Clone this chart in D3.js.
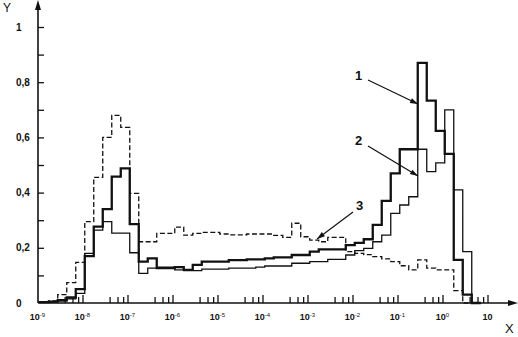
<!DOCTYPE html>
<html>
<head>
<meta charset="utf-8">
<script src="https://cdn.jsdelivr.net/npm/d3@7"></script>
<style>
  body { margin: 0; background: #fff; }
  svg { display: block; }
  text { font-family: Arial, "Liberation Sans", sans-serif; fill: #111; }
</style>
</head>
<body>
<svg id="chart" width="518" height="337"></svg>
<script>
// bin edges, as log10(X); 1/5 decade bins
const binEdges = [-8.95, -8.75, -8.55, -8.35, -8.15, -7.95, -7.75, -7.55, -7.35, -7.15,
  -6.95, -6.75, -6.55, -6.35, -6.15, -5.95, -5.75, -5.55, -5.35, -5.15,
  -4.95, -4.75, -4.55, -4.35, -4.15, -3.95, -3.75, -3.55, -3.35, -3.15,
  -2.95, -2.75, -2.55, -2.35, -2.15, -1.95, -1.75, -1.55, -1.35, -1.15,
  -0.95, -0.75, -0.55, -0.35, -0.15, 0.05, 0.25, 0.45, 0.65, 0.85]

// curve 1 (thick)
const series1 = [0.003, 0.005, 0.01, 0.02, 0.05, 0.17, 0.277, 0.34, 0.458, 0.488,
  0.286, 0.15, 0.162, 0.126, 0.126, 0.13, 0.12, 0.138, 0.15, 0.15,
  0.15, 0.155, 0.155, 0.158, 0.158, 0.162, 0.165, 0.165, 0.174, 0.174,
  0.186, 0.194, 0.194, 0.194, 0.21, 0.218, 0.231, 0.283, 0.37, 0.47,
  0.557, 0.557, 0.87, 0.733, 0.624, 0.54, 0.156, 0.03, 0]

// curve 2 (thin)
const series2 = [0.002, 0.004, 0.008, 0.015, 0.035, 0.18, 0.264, 0.295, 0.253, 0.253,
  0.182, 0.107, 0.126, 0.13, 0.13, 0.12, 0.117, 0.117, 0.123, 0.123,
  0.123, 0.126, 0.126, 0.126, 0.13, 0.134, 0.134, 0.134, 0.144, 0.144,
  0.15, 0.15, 0.158, 0.158, 0.174, 0.19, 0.198, 0.222, 0.246, 0.325,
  0.355, 0.385, 0.557, 0.476, 0.508, 0.70, 0.41, 0.186, 0]

// curve 3 (dashed)
const series3 = [0.004, 0.008, 0.03, 0.074, 0.147, 0.295, 0.455, 0.60, 0.68, 0.636,
  0.397, 0.222, 0.222, 0.252, 0.252, 0.275, 0.246, 0.252, 0.256, 0.256,
  0.25, 0.247, 0.247, 0.25, 0.25, 0.25, 0.245, 0.238, 0.289, 0.24,
  0.228, 0.222, 0.238, 0.238, 0.186, 0.18, 0.175, 0.168, 0.16, 0.15,
  0.135, 0.12, 0.156, 0.126, 0.12, 0.12, 0.045, 0, 0]

const yTicks = [0.1, 0.2, 0.3, 0.4, 0.5, 0.6, 0.7, 0.8, 0.9, 1]
const yLabels = [[0, '0'], [0.2, '0,2'], [0.4, '0,4'], [0.6, '0,6'], [0.8, '0,8'], [1, '1']]
const xDecades = [-9, -8, -7, -6, -5, -4, -3, -2, -1, 0, 1]
const xMinor = [4, 6, 8]

const svg = d3.select('#chart')

const x = d3.scaleLog().domain([1e-9, Math.pow(10, 1.6)]).range([37.5, 514.5])
const y = d3.scaleLinear().domain([0, 1]).range([303, 27])

// x axis: inward ticks at 4,6,8 of each decade, longer at decades
const minorVals = []
xDecades.slice(0, -1).forEach(d => xMinor.forEach(m => minorVals.push(m * Math.pow(10, d))))
svg.append('g')
  .attr('transform', 'translate(0,303)')
  .call(d3.axisBottom(x).tickValues(minorVals).tickSize(-6).tickFormat(''))
  .call(g => g.select('.domain').remove())
svg.append('g')
  .attr('transform', 'translate(0,303)')
  .call(d3.axisBottom(x).tickValues(xDecades.slice(1).map(d => Math.pow(10, d))).tickSize(-8).tickFormat(''))
  .call(g => g.select('.domain').remove())
svg.selectAll('.tick line').attr('stroke', '#111').attr('stroke-width', 1.3)

// y axis ticks pointing right
svg.append('g')
  .attr('transform', 'translate(38,0)')
  .call(d3.axisLeft(y).tickValues(yTicks).tickSize(-6).tickFormat(''))
  .call(g => g.select('.domain').remove())
  .selectAll('.tick line').attr('stroke', '#111').attr('stroke-width', 1.3)

// axis lines with arrows
svg.append('line').attr('x1', 38).attr('y1', 303).attr('x2', 512).attr('y2', 303)
  .attr('stroke', '#111').attr('stroke-width', 1.6)
svg.append('path').attr('d', 'M518,303 L508,300 L508,306 Z').attr('fill', '#111')
svg.append('line').attr('x1', 38).attr('y1', 303).attr('x2', 38).attr('y2', 6)
  .attr('stroke', '#111').attr('stroke-width', 1.6)
svg.append('path').attr('d', 'M38,0 L35,10 L41,10 Z').attr('fill', '#111')

// y labels
svg.selectAll('.ylab').data(yLabels).enter().append('text')
  .attr('x', 16).attr('y', d => y(d[0]) + 3.5)
  .style('font-size', '10px').style('font-weight', 'bold')
  .text(d => d[1])

// x labels (10 with superscript)
xDecades.forEach(d => {
  const t = svg.append('text')
    .attr('x', x(Math.pow(10, d))).attr('y', 320)
    .attr('text-anchor', 'middle')
    .style('font-size', '9px').style('font-weight', 'bold')
  if (d === 1) {
    t.text('10')
  } else {
    t.append('tspan').text('10')
    t.append('tspan').attr('dy', -3.5).style('font-size', '6px').style('font-weight', 'normal').text(d)
  }
})

svg.append('text').attr('x', 3).attr('y', 12).style('font-size', '12px').text('Y')
svg.append('text').attr('x', 505).attr('y', 333).style('font-size', '13px').text('X')

// step curves
function stepPoints(vals) {
  const pts = [[binEdges[0], 0]]
  vals.forEach((v, i) => pts.push([binEdges[i], v]))
  pts.push([binEdges[vals.length], 0])
  return pts
}
const line = d3.line()
  .x(d => x(Math.pow(10, d[0])))
  .y(d => y(d[1]))
  .curve(d3.curveStepAfter)

svg.append('path').datum(stepPoints(series3)).attr('d', line)
  .attr('fill', 'none').attr('stroke', '#111').attr('stroke-width', 1.3)
  .attr('stroke-dasharray', '5,2.5')
svg.append('path').datum(stepPoints(series2)).attr('d', line)
  .attr('fill', 'none').attr('stroke', '#111').attr('stroke-width', 1.3)
svg.append('path').datum(stepPoints(series1)).attr('d', line)
  .attr('fill', 'none').attr('stroke', '#111').attr('stroke-width', 2.3)

// annotations
const notes = [
  { label: '1', tx: 355, ty: 80, from: [368, 80], to: [418, 104] },
  { label: '2', tx: 355, ty: 145, from: [368, 146], to: [418, 176] },
  { label: '3', tx: 356, ty: 210, from: [353, 212], to: [317, 239] }
]
notes.forEach(n => {
  svg.append('text').attr('x', n.tx).attr('y', n.ty)
    .style('font-size', '13px').style('font-weight', 'bold').text(n.label)
  svg.append('line').attr('x1', n.from[0]).attr('y1', n.from[1])
    .attr('x2', n.to[0]).attr('y2', n.to[1])
    .attr('stroke', '#111').attr('stroke-width', 1.2)
  const a = Math.atan2(n.to[1] - n.from[1], n.to[0] - n.from[0])
  const L = 8, W = 2.6
  const bx = n.to[0] - L * Math.cos(a), by = n.to[1] - L * Math.sin(a)
  svg.append('path')
    .attr('d', `M${n.to[0]},${n.to[1]} L${bx - W * Math.sin(a)},${by + W * Math.cos(a)} L${bx + W * Math.sin(a)},${by - W * Math.cos(a)} Z`)
    .attr('fill', '#111')
})
</script>
</body>
</html>
